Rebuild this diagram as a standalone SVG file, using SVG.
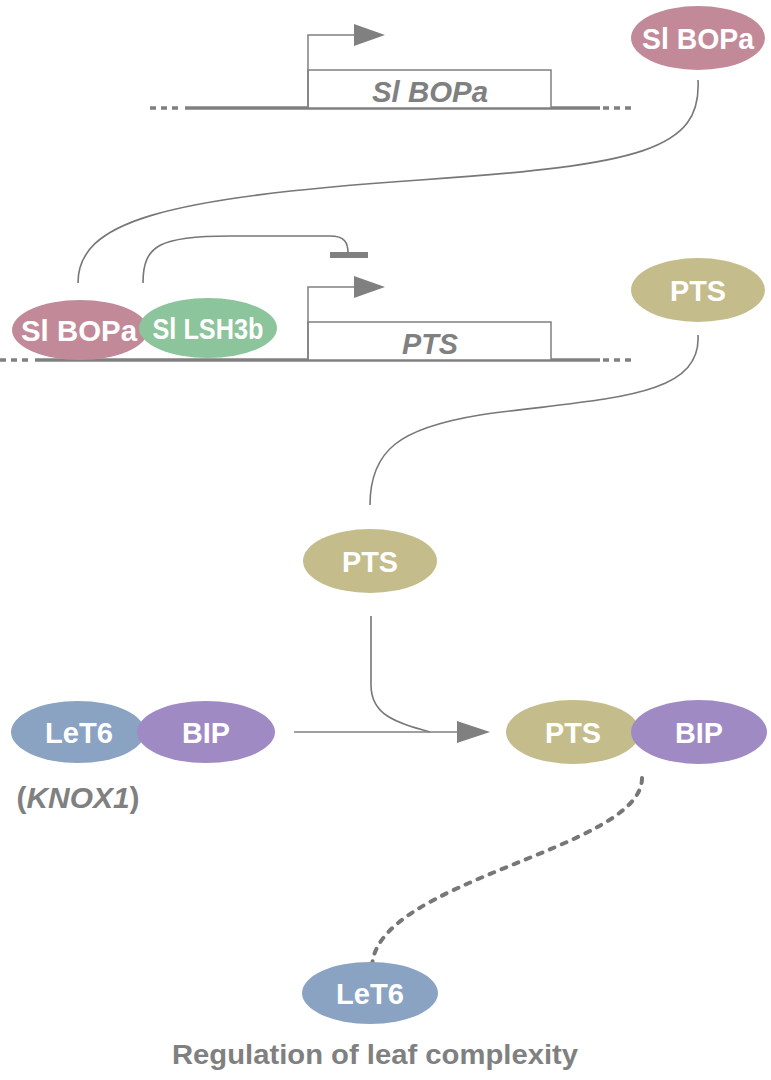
<svg xmlns="http://www.w3.org/2000/svg" width="771" height="1080" viewBox="0 0 771 1080">
<defs>
<style>
.ln{stroke:#808080;fill:none}
.dna{stroke:#808080;stroke-width:3.5;fill:none}
.dash{stroke:#808080;stroke-width:3.5;stroke-dasharray:6 5;fill:none}
.box{stroke:#808080;stroke-width:1.5;fill:#fff}
.cv{stroke:#777;stroke-width:1.6;fill:none}
.lbl{font-family:"Liberation Sans",Arial,sans-serif;font-weight:bold;font-size:30px;fill:#fff;text-anchor:middle}
.gene{font-family:"Liberation Sans",Arial,sans-serif;font-weight:bold;font-style:italic;font-size:30px;fill:#808080;text-anchor:middle}
.head{fill:#808080}
.pink{fill:#c28a99}
.green{fill:#8cc49c}
.olive{fill:#c4bd8b}
.blue{fill:#8aa3c2}
.purple{fill:#a08ac3}
</style>
</defs>
<g id="gene-slbopa">
<line class="dash" x1="150" y1="108" x2="183" y2="108"/>
<line class="dna" x1="185" y1="108" x2="600" y2="108"/>
<line class="dash" x1="603" y1="108" x2="636" y2="108"/>
<rect class="box" x="308" y="70" width="243" height="38"/>
<path class="ln" stroke-width="1.5" d="M308,108 V35 H357"/>
<polygon class="head" points="354,24 385,35 354,46"/>
<text class="gene" x="430" y="102" textLength="116" lengthAdjust="spacingAndGlyphs">Sl BOPa</text>
</g>
<g id="gene-pts">
<line class="dash" x1="0" y1="360" x2="33" y2="360"/>
<line class="dna" x1="35" y1="360" x2="600" y2="360"/>
<line class="dash" x1="603" y1="360" x2="636" y2="360"/>
<rect class="box" x="308" y="322" width="243" height="38"/>
<path class="ln" stroke-width="1.5" d="M308,360 V287 H357"/>
<polygon class="head" points="354,276 385,287 354,298"/>
<text class="gene" x="430" y="354" textLength="56" lengthAdjust="spacingAndGlyphs">PTS</text>
</g>
<g id="connectors">
<path class="cv" d="M698,80 C702,150 640,165 420,180 C160,198 78,222 78,283"/>
<path class="cv" d="M143,283 C143,245 160,236 230,236 L330,236 C345,236 348,243 348,253"/>
<rect x="330" y="252" width="38" height="6" fill="#808080"/>
<path class="cv" d="M698,335 C702,400 600,398 480,415 C400,428 370,450 370,505"/>
<path class="cv" d="M371,616 L371,685 C371,715 395,722 430,732"/>
<line class="ln" stroke-width="1.6" x1="294" y1="732" x2="460" y2="732"/>
<polygon class="head" points="457,721 490,732 457,743"/>
<path d="M642,778 C642,850 372,880 372,968" stroke="#777" stroke-width="4" stroke-dasharray="5 8" stroke-linecap="round" fill="none"/>
</g>
<g id="node-slbopa-top">
<ellipse class="pink" cx="698" cy="38" rx="67" ry="32"/>
<text class="lbl" x="698" y="49" textLength="112" lengthAdjust="spacingAndGlyphs">Sl BOPa</text>
</g>
<g id="node-slbopa-bound">
<ellipse class="pink" cx="80" cy="330" rx="68" ry="30"/>
<text class="lbl" x="79" y="341" textLength="116" lengthAdjust="spacingAndGlyphs">Sl BOPa</text>
</g>
<g id="node-sllsh3b">
<ellipse class="green" cx="208" cy="328" rx="69" ry="30"/>
<text class="lbl" x="208" y="339" font-size="28" textLength="111" lengthAdjust="spacingAndGlyphs">Sl LSH3b</text>
</g>
<g id="node-pts-top">
<ellipse class="olive" cx="698" cy="290" rx="67" ry="32"/>
<text class="lbl" x="698" y="301" textLength="56" lengthAdjust="spacingAndGlyphs">PTS</text>
</g>
<g id="node-pts-mid">
<ellipse class="olive" cx="370" cy="561" rx="67" ry="32"/>
<text class="lbl" x="370" y="572" textLength="56" lengthAdjust="spacingAndGlyphs">PTS</text>
</g>
<g id="node-let6-left">
<ellipse class="blue" cx="78" cy="732" rx="67" ry="31"/>
<text class="lbl" x="79" y="743" textLength="68" lengthAdjust="spacingAndGlyphs">LeT6</text>
</g>
<g id="node-bip-left">
<ellipse class="purple" cx="206" cy="732" rx="69" ry="31"/>
<text class="lbl" x="206" y="743" textLength="48" lengthAdjust="spacingAndGlyphs">BIP</text>
</g>
<text id="knox1" x="78" y="808" font-family="'Liberation Sans',Arial,sans-serif" font-weight="bold" font-size="30" fill="#808080" text-anchor="middle" textLength="123" lengthAdjust="spacingAndGlyphs">(<tspan font-style="italic">KNOX1</tspan>)</text>
<g id="node-pts-right">
<ellipse class="olive" cx="573" cy="732" rx="67" ry="32"/>
<text class="lbl" x="573" y="743" textLength="56" lengthAdjust="spacingAndGlyphs">PTS</text>
</g>
<g id="node-bip-right">
<ellipse class="purple" cx="699" cy="732" rx="68" ry="32"/>
<text class="lbl" x="699" y="743" textLength="48" lengthAdjust="spacingAndGlyphs">BIP</text>
</g>
<g id="node-let6-bottom">
<ellipse class="blue" cx="370" cy="993" rx="68" ry="31"/>
<text class="lbl" x="370" y="1004" textLength="68" lengthAdjust="spacingAndGlyphs">LeT6</text>
</g>
<text id="title" x="375" y="1064" font-family="'Liberation Sans',Arial,sans-serif" font-weight="bold" font-size="27" fill="#808080" text-anchor="middle" textLength="406" lengthAdjust="spacingAndGlyphs">Regulation of leaf complexity</text>
</svg>
